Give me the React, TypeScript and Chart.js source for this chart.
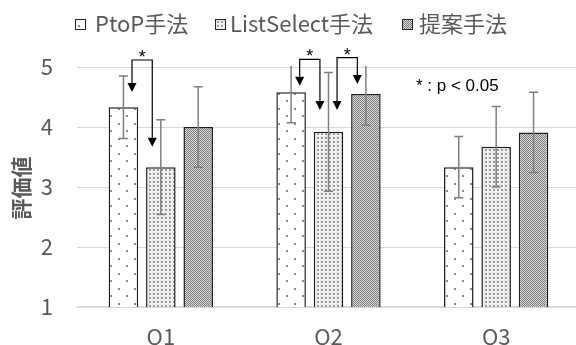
import React, { useEffect, useRef } from 'react';
import { Chart, registerables } from 'chart.js';

Chart.register(...registerables);

// ---- data ----
const categories = ['Q1', 'Q2', 'Q3'];
const seriesNames = ['PtoP手法', 'ListSelect手法', '提案手法'];
const ptopValues = [4.33, 4.58, 3.33];
const ptopErrors = [0.52, 0.51, 0.51];
const listValues = [3.33, 3.92, 3.67];
const listErrors = [0.79, 0.99, 0.67];
const proposedValues = [4.0, 4.55, 3.91];
const proposedErrors = [0.67, 0.52, 0.67];
const yTicks = [1, 2, 3, 4, 5];
const yTitle = '評価値';
const sigNote = '* : p < 0.05';
const sigMark = '*';
// significance brackets: category index, from series, to series, bracket level, arrow tip values
const sigCategory = [0, 1, 1];
const sigFrom = [0, 0, 1];
const sigTo = [1, 1, 2];
const sigBracketValue = [5.117, 5.128, 5.155];
const sigFromTip = [4.583, 4.688, 4.283];
const sigToTip = [3.672, 4.283, 4.717];

const valueSets = [ptopValues, listValues, proposedValues];
const errorSets = [ptopErrors, listErrors, proposedErrors];

const FONT = "'Noto Sans CJK JP', 'Noto Sans', sans-serif";
const GRAY_TEXT = '#595959';

function makePattern(ctx: CanvasRenderingContext2D, kind: number): CanvasPattern | string {
  const c = document.createElement('canvas');
  const t = c.getContext('2d');
  if (!t) return '#ccc';
  if (kind === 0) {
    c.width = 16; c.height = 15;
    t.fillStyle = '#ffffff'; t.fillRect(0, 0, 16, 15);
    t.fillStyle = '#8c8c8c';
    t.fillRect(6, 3, 2, 2);
    t.fillRect(14, 10, 2, 2);
  } else if (kind === 1) {
    c.width = 4; c.height = 4;
    t.fillStyle = '#f2f2f2'; t.fillRect(0, 0, 4, 4);
    t.fillStyle = '#9a9a9a'; t.fillRect(1, 1, 2, 2);
    t.fillStyle = '#d4d4d4'; t.fillRect(0, 0, 1, 1);
  } else {
    c.width = 2; c.height = 2;
    t.fillStyle = '#dcdcdc'; t.fillRect(0, 0, 2, 2);
    t.fillStyle = '#7a7a7a'; t.fillRect(0, 0, 1, 1); t.fillRect(1, 1, 1, 1);
  }
  return ctx.createPattern(c, 'repeat') || '#ccc';
}

const legendBoxX = [75, 215, 402];
const legendTextX = [95, 230, 419];

const overlayPlugin = {
  id: 'overlay',
  afterDatasetsDraw(chart: any) {
    const { ctx, chartArea } = chart;
    const y = chart.scales.y;
    ctx.save();
    ctx.beginPath();
    ctx.rect(chartArea.left, chartArea.top - 1, chartArea.right - chartArea.left, chartArea.bottom - chartArea.top + 1);
    ctx.clip();
    ctx.strokeStyle = '#7f7f7f';
    ctx.lineWidth = 1.5;
    errorSets.forEach((errs, di) => {
      const meta = chart.getDatasetMeta(di);
      meta.data.forEach((bar: any, i: number) => {
        const v = valueSets[di][i];
        const e = errs[i];
        const x = bar.x;
        const yT = y.getPixelForValue(v + e);
        const yB = y.getPixelForValue(v - e);
        ctx.beginPath();
        ctx.moveTo(x, yT); ctx.lineTo(x, yB);
        ctx.moveTo(x - 4.5, yT); ctx.lineTo(x + 4.5, yT);
        ctx.moveTo(x - 4.5, yB); ctx.lineTo(x + 4.5, yB);
        ctx.stroke();
      });
    });
    ctx.restore();
  },
  afterDraw(chart: any) {
    const { ctx } = chart;
    const y = chart.scales.y;
    ctx.save();
    // significance brackets
    ctx.strokeStyle = '#000';
    ctx.fillStyle = '#000';
    ctx.lineWidth = 1.2;
    sigCategory.forEach((cat, k) => {
      const barA = chart.getDatasetMeta(sigFrom[k]).data[cat];
      const barB = chart.getDatasetMeta(sigTo[k]).data[cat];
      const off = barA.width * 0.29;
      const xa = barA.x + off;
      const xb = barB.x - off;
      const yb = y.getPixelForValue(sigBracketValue[k]);
      const ta = y.getPixelForValue(sigFromTip[k]);
      const tb = y.getPixelForValue(sigToTip[k]);
      const ah = 9, aw = 4.5;
      ctx.beginPath();
      ctx.moveTo(xa, ta - ah); ctx.lineTo(xa, yb); ctx.lineTo(xb, yb); ctx.lineTo(xb, tb - ah);
      ctx.stroke();
      [[xa, ta], [xb, tb]].forEach(([ax, ay]) => {
        ctx.beginPath();
        ctx.moveTo(ax, ay);
        ctx.lineTo(ax - aw, ay - ah);
        ctx.lineTo(ax + aw, ay - ah);
        ctx.closePath();
        ctx.fill();
      });
      ctx.font = `18px 'Liberation Sans', sans-serif`;
      ctx.textAlign = 'center';
      ctx.textBaseline = 'alphabetic';
      ctx.fillText(sigMark, (xa + xb) / 2, yb + 3);
    });
    // note
    ctx.font = `17px 'Liberation Sans', sans-serif`;
    ctx.textAlign = 'left';
    ctx.textBaseline = 'middle';
    ctx.fillStyle = '#000';
    ctx.fillText(sigNote, 416, 86);
    // y title
    ctx.save();
    ctx.translate(21.5, 188);
    ctx.rotate(-Math.PI / 2);
    ctx.font = `bold 21px ${FONT}`;
    ctx.fillStyle = GRAY_TEXT;
    ctx.textAlign = 'center';
    ctx.textBaseline = 'middle';
    ctx.fillText(yTitle, 0, 0);
    ctx.restore();
    // legend
    chart.data.datasets.forEach((ds: any, i: number) => {
      ctx.fillStyle = ds.backgroundColor;
      ctx.fillRect(legendBoxX[i], 19, 11, 11);
      ctx.strokeStyle = '#262626';
      ctx.lineWidth = 1;
      ctx.strokeRect(legendBoxX[i] + 0.5, 19.5, 10, 10);
      ctx.font = `22px ${FONT}`;
      ctx.fillStyle = GRAY_TEXT;
      ctx.textAlign = 'left';
      ctx.textBaseline = 'middle';
      ctx.fillText(ds.label, legendTextX[i], 24);
    });
    ctx.restore();
  },
};

export default function App() {
  const ref = useRef<HTMLCanvasElement | null>(null);
  useEffect(() => {
    const canvas = ref.current;
    if (!canvas) return;
    const ctx = canvas.getContext('2d');
    if (!ctx) return;
    const patterns = [0, 1, 2].map((k) => makePattern(ctx, k));
    const chart = new Chart(canvas, {
      type: 'bar',
      data: {
        labels: categories,
        datasets: valueSets.map((vals, i) => ({
          label: seriesNames[i],
          data: vals,
          backgroundColor: patterns[i] as any,
          borderColor: '#1f1f1f',
          borderWidth: 1.5,
          borderSkipped: false,
          categoryPercentage: 0.669,
          barPercentage: 0.79,
        })),
      },
      options: {
        responsive: false,
        animation: false,
        devicePixelRatio: 1,
        layout: { padding: { top: 67, right: 10, bottom: 0, left: 0 } },
        plugins: {
          legend: { display: false },
          tooltip: { enabled: false },
          title: { display: false },
        },
        scales: {
          x: {
            grid: { display: false, drawTicks: false },
            border: { display: true, color: '#d9d9d9', width: 1.5 },
            ticks: { color: GRAY_TEXT, font: { size: 22, family: FONT }, padding: 16 },
            afterFit: (s: any) => { s.height = 38; },
          },
          y: {
            min: 1,
            max: 5,
            grid: { color: '#d9d9d9', lineWidth: 1, drawTicks: false },
            border: { display: false },
            ticks: { color: GRAY_TEXT, font: { size: 22, family: FONT }, padding: 24 },
            afterBuildTicks: (s: any) => { s.ticks = yTicks.map((v) => ({ value: v })); },
            afterFit: (s: any) => { s.width = 77; },
          },
        },
      },
      plugins: [overlayPlugin],
    });
    return () => chart.destroy();
  }, []);
  return (
    <div style={{ position: 'fixed', left: 0, top: 0, width: 576, height: 345, overflow: 'hidden', background: '#fff' }}>
      <canvas ref={ref} width={590} height={345} style={{ display: 'block', width: 590, height: 345 }} />
    </div>
  );
}
